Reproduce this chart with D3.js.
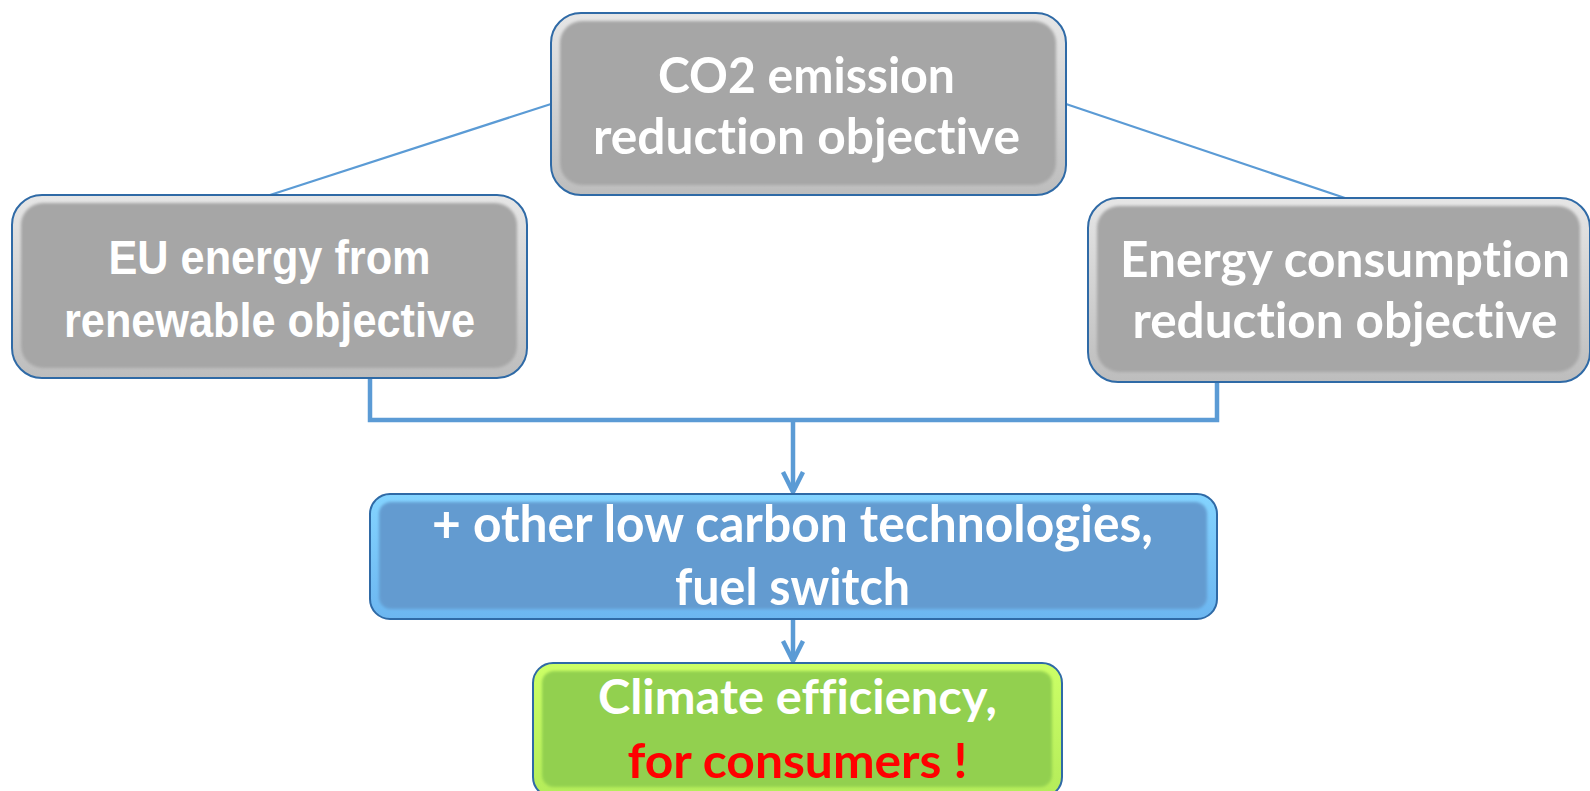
<!DOCTYPE html>
<html>
<head>
<meta charset="utf-8">
<script src="https://cdn.jsdelivr.net/npm/d3@7/dist/d3.min.js"></script>
<style>
  html, body { margin: 0; padding: 0; background: #ffffff; overflow: hidden; }
  svg { display: block; }
  text { font-variant-ligatures: none; font-feature-settings: "liga" 0, "clig" 0; }
</style>
</head>
<body>
<svg id="chart" width="1590" height="791"></svg>
<script>
// ---------------- data ----------------
const nodeIds = ["co2", "renew", "consumption", "lowcarbon", "climate"];
const nodeLines = {
  co2: ["CO2 emission", "reduction objective"],
  renew: ["EU energy from", "renewable objective"],
  consumption: ["Energy consumption", "reduction objective"],
  lowcarbon: ["+ other low carbon technologies,", "fuel switch"],
  climate: ["Climate efficiency,", "for consumers !"]
};
const linkSources = ["co2", "co2", "renew", "consumption", "lowcarbon"];
const linkTargets = ["renew", "consumption", "lowcarbon", "lowcarbon", "climate"];

// ---------------- layout & style (kept apart from data) ----------------
const layout = {
  co2:         { x0: 551, y0: 13,  x1: 1066, y1: 195, r: 30, cx: 806.5, base: [93, 154],  widths: [297, 427], size: 49 },
  renew:       { x0: 12,  y0: 195, x1: 527,  y1: 378, r: 30, cx: 269.5, base: [274, 337], widths: [322, 411], size: 48 },
  consumption: { x0: 1088,y0: 198, x1: 1590, y1: 382, r: 30, cx: 1345,  base: [277, 338], widths: [450, 425], size: 49 },
  lowcarbon:   { x0: 370, y0: 494, x1: 1217, y1: 619, r: 20, cx: 792.5, base: [542, 605], widths: [721, 235], size: 51 },
  climate:     { x0: 533, y0: 663, x1: 1062, y1: 797, r: 20, cx: 797.5, base: [714, 778], widths: [399, 340], size: 47 }
};
const theme = {
  co2:         { fill: "#a6a6a6", bevelTop: "#e6e6e6", bevelBot: "#bdbdbd", font: "Lato, 'Open Sans', sans-serif", colors: ["#ffffff", "#ffffff"] },
  renew:       { fill: "#a6a6a6", bevelTop: "#e6e6e6", bevelBot: "#bdbdbd", font: "'Liberation Sans Narrow', 'Liberation Sans', Arial, sans-serif", colors: ["#ffffff", "#ffffff"] },
  consumption: { fill: "#a6a6a6", bevelTop: "#e6e6e6", bevelBot: "#bdbdbd", font: "Lato, 'Open Sans', sans-serif", colors: ["#ffffff", "#ffffff"] },
  lowcarbon:   { fill: "#639bd0", bevelTop: "#84d4ff", bevelBot: "#6cb6f0", font: "Lato, 'Open Sans', sans-serif", colors: ["#ffffff", "#ffffff"] },
  climate:     { fill: "#92d050", bevelTop: "#ccff66", bevelBot: "#b4ec5a", font: "Lato, 'Open Sans', sans-serif", colors: ["#ffffff", "#ff0000"] }
};
const borderColor = "#2f6aa6";
const connColor = "#5b9bd5";

// ---------------- drawing ----------------
const svg = d3.select("#chart");
const defs = svg.append("defs");

defs.append("filter").attr("id", "soft")
  .attr("x", "-5%").attr("y", "-5%").attr("width", "110%").attr("height", "110%")
  .append("feGaussianBlur").attr("stdDeviation", 1.6);

nodeIds.forEach(id => {
  const t = theme[id];
  const g = defs.append("linearGradient").attr("id", "bev-" + id)
    .attr("x1", 0).attr("y1", 0).attr("x2", 0).attr("y2", 1);
  g.append("stop").attr("offset", "0%").attr("stop-color", t.bevelTop);
  g.append("stop").attr("offset", "100%").attr("stop-color", t.bevelBot);
});

// connectors
const gLinks = svg.append("g");
const arrowLen = 20, arrowHalf = 10;

function chevron(x, tipY) {
  return d3.line()([[x - arrowHalf, tipY - arrowLen], [x, tipY], [x + arrowHalf, tipY - arrowLen]]);
}

// top two links (straight lines from the top box's sides to the lower boxes' tops)
const topAnchorY = 104;
linkSources.forEach((s, i) => {
  const t = linkTargets[i];
  const S = layout[s], T = layout[t];
  if (s === "co2") {
    const fromX = (T.x0 + T.x1) / 2 < S.x0 ? S.x0 : S.x1;
    const toX = t === "renew" ? 270 : 1345;
    gLinks.append("line")
      .attr("x1", fromX).attr("y1", topAnchorY)
      .attr("x2", toX).attr("y2", T.y0)
      .attr("stroke", connColor).attr("stroke-width", 2.2);
  }
});

// bracket collecting the two side objectives into the low-carbon box
const bracketY = 420;
const bx = { renew: 370, consumption: 1217 };
const p = d3.path();
p.moveTo(bx.renew, layout.renew.y1);
p.lineTo(bx.renew, bracketY);
p.lineTo(bx.consumption, bracketY);
p.lineTo(bx.consumption, layout.consumption.y1);
gLinks.append("path").attr("d", p.toString())
  .attr("fill", "none").attr("stroke", connColor).attr("stroke-width", 4.5).attr("stroke-linejoin", "miter");

// arrow bracket -> low carbon
const arrowX = 793;
gLinks.append("line").attr("x1", arrowX).attr("y1", bracketY).attr("x2", arrowX).attr("y2", layout.lowcarbon.y0 - 3)
  .attr("stroke", connColor).attr("stroke-width", 4.5);
gLinks.append("path").attr("d", chevron(arrowX, layout.lowcarbon.y0 - 2))
  .attr("fill", "none").attr("stroke", connColor).attr("stroke-width", 4.5).attr("stroke-linejoin", "miter");

// arrow low carbon -> climate
gLinks.append("line").attr("x1", arrowX).attr("y1", layout.lowcarbon.y1).attr("x2", arrowX).attr("y2", layout.climate.y0 - 3)
  .attr("stroke", connColor).attr("stroke-width", 4.5);
gLinks.append("path").attr("d", chevron(arrowX, layout.climate.y0 - 2))
  .attr("fill", "none").attr("stroke", connColor).attr("stroke-width", 4.5).attr("stroke-linejoin", "miter");

// boxes
const gNodes = svg.selectAll("g.node").data(nodeIds).join("g").attr("class", "node");

gNodes.append("rect")
  .attr("x", d => layout[d].x0).attr("y", d => layout[d].y0)
  .attr("width", d => layout[d].x1 - layout[d].x0)
  .attr("height", d => layout[d].y1 - layout[d].y0)
  .attr("rx", d => layout[d].r).attr("ry", d => layout[d].r)
  .attr("fill", d => "url(#bev-" + d + ")")
  .attr("stroke", borderColor).attr("stroke-width", 2);

gNodes.append("rect")
  .attr("x", d => layout[d].x0 + 9).attr("y", d => layout[d].y0 + 8)
  .attr("width", d => layout[d].x1 - layout[d].x0 - 19)
  .attr("height", d => layout[d].y1 - layout[d].y0 - 18)
  .attr("rx", d => layout[d].r - 8).attr("ry", d => layout[d].r - 8)
  .attr("fill", d => theme[d].fill)
  .attr("filter", "url(#soft)");

gNodes.each(function(d) {
  const L = layout[d], T = theme[d];
  const text = d3.select(this).append("text")
    .attr("text-anchor", "middle")
    .attr("font-family", T.font)
    .attr("font-weight", 700)
    .attr("font-size", L.size);
  nodeLines[d].forEach((line, i) => {
    text.append("tspan")
      .attr("x", L.cx).attr("y", L.base[i])
      .attr("fill", T.colors[i])
      .attr("textLength", L.widths[i])
      .attr("lengthAdjust", "spacingAndGlyphs")
      .text(line);
  });
});
</script>
</body>
</html>
